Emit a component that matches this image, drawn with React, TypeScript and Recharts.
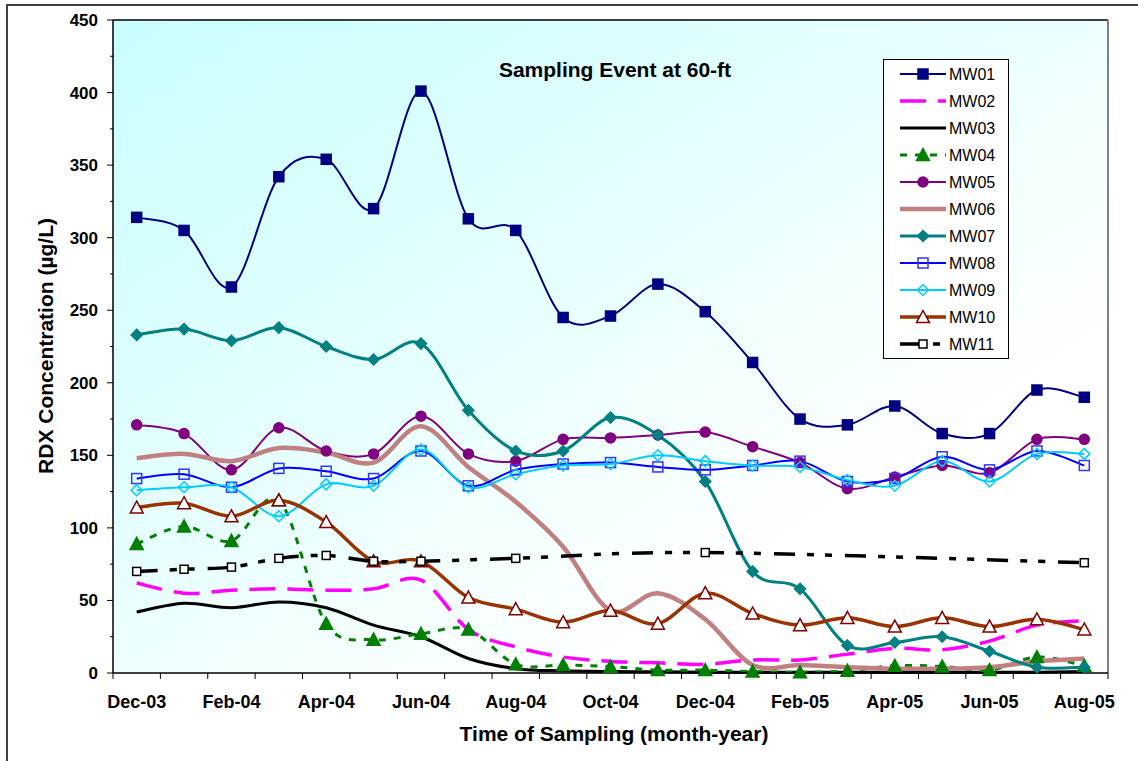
import { LineChart, Line, XAxis, YAxis, CartesianGrid, ReferenceLine, Legend } from 'recharts';

const MONTHS = ['Dec-03', 'Jan-04', 'Feb-04', 'Mar-04', 'Apr-04', 'May-04', 'Jun-04', 'Jul-04', 'Aug-04', 'Sep-04', 'Oct-04',
  'Nov-04', 'Dec-04', 'Jan-05', 'Feb-05', 'Mar-05', 'Apr-05', 'May-05', 'Jun-05', 'Jul-05', 'Aug-05'];

const MW01 = [314, 305, 266, 342, 354, 320, 401, 313, 305, 245, 246, 268, 249, 214, 175, 171, 184, 165, 165, 195, 190];
const MW02 = [62, 55, 57, 58, 57, 58, 64, 30, 18, 11, 8, 7, 6, 9, 9, 13, 17, 16, 22, 33, 36];
const MW03 = [42, 48, 45, 49, 45, 33, 25, 10, 3, 1.5, 1, 0.8, 0.6, 0.5, 0.5, 0.5, 0.5, 0.5, 0.5, 0.6, 1];
const MW04 = [89, 101, 91, 119, 34, 23, 27, 30, 6, 5.5, 4.4, 2, 2, 1, 0.5, 1.5, 5, 4.5, 2, 11, 5];
const MW05 = [171, 165, 140, 169, 153, 151, 177, 151, 146, 161, 162, 164, 166, 156, 145, 127, 135, 143, 138, 161, 161];
const MW06 = [148, 151, 146, 155, 152, 145, 170, 142, 118, 87, 43, 55, 37, 5.5, 5.5, 4, 3, 3, 4, 8, 10];
const MW07 = [233, 237, 229, 238, 225, 216, 227, 181, 153, 153, 176, 164, 132, 70, 58, 19, 21, 25, 15, 4, 4];
const MW08 = [134, 137, 128, 141, 139, 134, 153, 129, 140, 144, 145, 142, 140, 143, 146, 132, 134, 149, 140, 153, 143];
const MW09 = [126, 128, 128, 108, 130, 129, 154, 128, 137, 143, 144, 150, 146, 143, 142, 133, 129, 146, 132, 151, 151];
const MW10 = [114, 117, 108, 119, 104, 77, 77, 52, 44, 35, 43, 34, 55, 41, 33, 38, 32, 38, 32, 37, 30];
const MW11 = [70, 71.5, 73, 79, 81, 77, 77, null, 79, null, null, null, 83, null, null, null, null, null, null, null, 76];

const Y_TICKS = [0, 25, 50, 75, 100, 125, 150, 175, 200, 225, 250, 275, 300, 325, 350, 375, 400, 425, 450];

const FONT = '"Liberation Sans", Arial, sans-serif';

// chart geometry
const W = 1138;
const H = 761;
const MARGIN = { top: 20, right: 30, bottom: 58, left: 53 };
const Y_AXIS_W = 60;
const X_AXIS_H = 30;
const PLOT_W = W - MARGIN.left - MARGIN.right - Y_AXIS_W;
const SLOT = PLOT_W / MONTHS.length;
const X_TICKS = Array.from({ length: MONTHS.length + 1 }, (_, i) => i - 0.5);

const data = MONTHS.map((m, i) => ({
  idx: i,
  month: m,
  MW01: MW01[i],
  MW02: MW02[i],
  MW03: MW03[i],
  MW04: MW04[i],
  MW05: MW05[i],
  MW06: MW06[i],
  MW07: MW07[i],
  MW08: MW08[i],
  MW09: MW09[i],
  MW10: MW10[i],
  MW11: MW11[i],
}));

// excel-like smoothed line (catmull-rom through the points)
function excelCurve(context: any) {
  let pts: number[][] = [];
  return {
    areaStart() {},
    areaEnd() {},
    lineStart() {
      pts = [];
    },
    lineEnd() {
      const n = pts.length;
      if (!n) return;
      context.moveTo(pts[0][0], pts[0][1]);
      for (let i = 0; i < n - 1; i++) {
        const p0 = pts[Math.max(i - 1, 0)];
        const p1 = pts[i];
        const p2 = pts[i + 1];
        const p3 = pts[Math.min(i + 2, n - 1)];
        context.bezierCurveTo(
          p1[0] + (p2[0] - p0[0]) / 6, p1[1] + (p2[1] - p0[1]) / 6,
          p2[0] - (p3[0] - p1[0]) / 6, p2[1] - (p3[1] - p1[1]) / 6,
          p2[0], p2[1],
        );
      }
    },
    point(x: number, y: number) {
      pts.push([+x, +y]);
    },
  };
}

type MarkerKind = 'square' | 'circle' | 'triangle' | 'diamond' | 'none';

const marker = (kind: MarkerKind, cx: number, cy: number, size: number, fill: string, stroke: string, sw = 1, key?: any) => {
  const h = size / 2;
  if (kind === 'square') {
    return <rect key={key} x={cx - h} y={cy - h} width={size} height={size} fill={fill} stroke={stroke} strokeWidth={sw} />;
  }
  if (kind === 'circle') {
    return <circle key={key} cx={cx} cy={cy} r={h} fill={fill} stroke={stroke} strokeWidth={sw} />;
  }
  if (kind === 'triangle') {
    return (
      <polygon key={key} points={`${cx},${cy - h} ${cx + h},${cy + h * 0.85} ${cx - h},${cy + h * 0.85}`}
        fill={fill} stroke={stroke} strokeWidth={sw} />
    );
  }
  if (kind === 'diamond') {
    return (
      <polygon key={key} points={`${cx},${cy - h} ${cx + h},${cy} ${cx},${cy + h} ${cx - h},${cy}`}
        fill={fill} stroke={stroke} strokeWidth={sw} />
    );
  }
  return <g key={key} />;
};

const SERIES = [
  { key: 'MW01', color: '#000080', width: 2, dash: undefined, kind: 'square', size: 10, mFill: '#000080', mStroke: '#000080' },
  { key: 'MW02', color: '#ff00ff', width: 3.5, dash: '26 12', kind: 'none', size: 0, mFill: '', mStroke: '' },
  { key: 'MW03', color: '#000000', width: 3, dash: undefined, kind: 'none', size: 0, mFill: '', mStroke: '' },
  { key: 'MW04', color: '#008000', width: 3, dash: '7 8', kind: 'triangle', size: 13, mFill: '#008000', mStroke: '#008000' },
  { key: 'MW05', color: '#800080', width: 2, dash: undefined, kind: 'circle', size: 10, mFill: '#800080', mStroke: '#800080' },
  { key: 'MW06', color: '#c08080', width: 4.5, dash: undefined, kind: 'none', size: 0, mFill: '', mStroke: '' },
  { key: 'MW07', color: '#008080', width: 3, dash: undefined, kind: 'diamond', size: 11, mFill: '#008080', mStroke: '#008080' },
  { key: 'MW08', color: '#0000ff', width: 2, dash: undefined, kind: 'square', size: 10, mFill: 'none', mStroke: '#3333ff' },
  { key: 'MW09', color: '#00ccff', width: 2, dash: undefined, kind: 'diamond', size: 11, mFill: 'none', mStroke: '#00ccff' },
  { key: 'MW10', color: '#993300', width: 3.5, dash: undefined, kind: 'triangle', size: 13, mFill: '#ffffff', mStroke: '#800000' },
  { key: 'MW11', color: '#000000', width: 3.5, dash: '21 12 7 11 7 13', kind: 'square', size: 8, mFill: '#ffffff', mStroke: '#000000' },
] as const;

const YTick = (props: any) => {
  const { x, y, payload } = props;
  const major = payload.value % 50 === 0;
  return (
    <g>
      <line x1={x - (major ? 6 : 3)} x2={x} y1={y} y2={y} stroke="#000" strokeWidth={1} />
      {major && (
        <text x={x - 15} y={y + 6} textAnchor="end" fontFamily={FONT} fontSize={17} fontWeight="bold" fill="#000">
          {payload.value}
        </text>
      )}
    </g>
  );
};

const XTick = (props: any) => {
  const { x, y, payload } = props;
  const k = Math.round(payload.value + 0.5);
  const label = k < MONTHS.length && k % 2 === 0 ? MONTHS[k] : null;
  return (
    <g>
      <line x1={x} x2={x} y1={y} y2={y + 6} stroke="#000" strokeWidth={1} />
      {label && (
        <text x={x + SLOT / 2} y={y + 35} textAnchor="middle" fontFamily={FONT} fontSize={18} fontWeight="bold" fill="#000">
          {label}
        </text>
      )}
    </g>
  );
};

const LegendBox = () => (
  <div style={{ width: 126, height: 300, boxSizing: 'border-box', border: '1px solid #000', background: '#fff' }}>
    <svg width={124} height={298} style={{ display: 'block' }}>
      {SERIES.map((s, i) => {
        const cy = 14 + i * 27;
        return (
          <g key={s.key}>
            <line x1={16} x2={62} y1={cy} y2={cy} stroke={s.color} strokeWidth={s.width} strokeDasharray={s.dash} />
            {marker(s.kind as MarkerKind, 39, cy, s.size, s.mFill, s.mStroke, 1.5)}
            <text x={65} y={cy + 6} fontFamily={FONT} fontSize={16} fill="#000">{s.key}</text>
          </g>
        );
      })}
    </svg>
  </div>
);

const App = () => {
  return (
    <div style={{ position: 'absolute', left: 0, top: 0, width: W, height: H, overflow: 'hidden', background: '#fff' }}>
      <div style={{ position: 'absolute', left: 6, top: 4, width: W + 20, height: H + 20, border: '2px solid #404040' }} />
      <div style={{ position: 'absolute', left: 0, top: 0 }}>
        <LineChart width={W} height={H} data={data} margin={MARGIN}>
          <defs>
            <linearGradient id="plotBg" x1="0" y1="0" x2="1" y2="1">
              <stop offset="0" stopColor="#c8fefe" />
              <stop offset="0.75" stopColor="#ffffff" />
            </linearGradient>
          </defs>
          <CartesianGrid horizontal={false} vertical={false} fill="url(#plotBg)" />
          <XAxis
            dataKey="idx"
            type="number"
            domain={[-0.5, MONTHS.length - 0.5]}
            ticks={X_TICKS}
            interval={0}
            height={X_AXIS_H}
            tickSize={0}
            tickMargin={0}
            tick={<XTick />}
            axisLine={{ stroke: '#000', strokeWidth: 1.5 }}
            tickLine={false}
          />
          <YAxis
            type="number"
            domain={[0, 450]}
            ticks={Y_TICKS}
            interval={0}
            width={Y_AXIS_W}
            tickSize={0}
            tickMargin={0}
            tick={<YTick />}
            axisLine={{ stroke: '#000', strokeWidth: 1.5 }}
            tickLine={false}
          />
          <ReferenceLine y={450} stroke="#000" strokeWidth={1.5} />
          <ReferenceLine x={MONTHS.length - 0.5} stroke="#808080" strokeWidth={2} />
          {SERIES.map((s) => (
            <Line
              key={s.key}
              dataKey={s.key}
              type={excelCurve as any}
              stroke={s.color}
              strokeWidth={s.width}
              strokeDasharray={s.dash}
              connectNulls
              isAnimationActive={false}
              activeDot={false}
              dot={
                s.kind === 'none'
                  ? false
                  : (p: any) => {
                      if (p.cx == null || p.cy == null || p.value == null) return <g key={`${s.key}-${p.index}`} />;
                      return marker(s.kind as MarkerKind, p.cx, p.cy, s.size, s.mFill, s.mStroke, 1.5, `${s.key}-${p.index}`);
                    }
              }
            />
          ))}
          <Legend
            layout="horizontal"
            verticalAlign="middle"
            align="center"
            content={() => <LegendBox />}
            wrapperStyle={{ left: 883, top: 59, width: 126, height: 300 }}
          />
          <text x={615} y={77} textAnchor="middle" fontFamily={FONT} fontSize={21} fontWeight="bold" fill="#000">
            Sampling Event at 60-ft
          </text>
          <text x={614} y={741} textAnchor="middle" fontFamily={FONT} fontSize={21} fontWeight="bold" fill="#000">
            Time of Sampling (month-year)
          </text>
          <text transform="translate(53,346) rotate(-90)" textAnchor="middle" fontFamily={FONT} fontSize={21} fontWeight="bold" fill="#000">
            RDX Concentration (µg/L)
          </text>
        </LineChart>
      </div>
    </div>
  );
};

export default App;
